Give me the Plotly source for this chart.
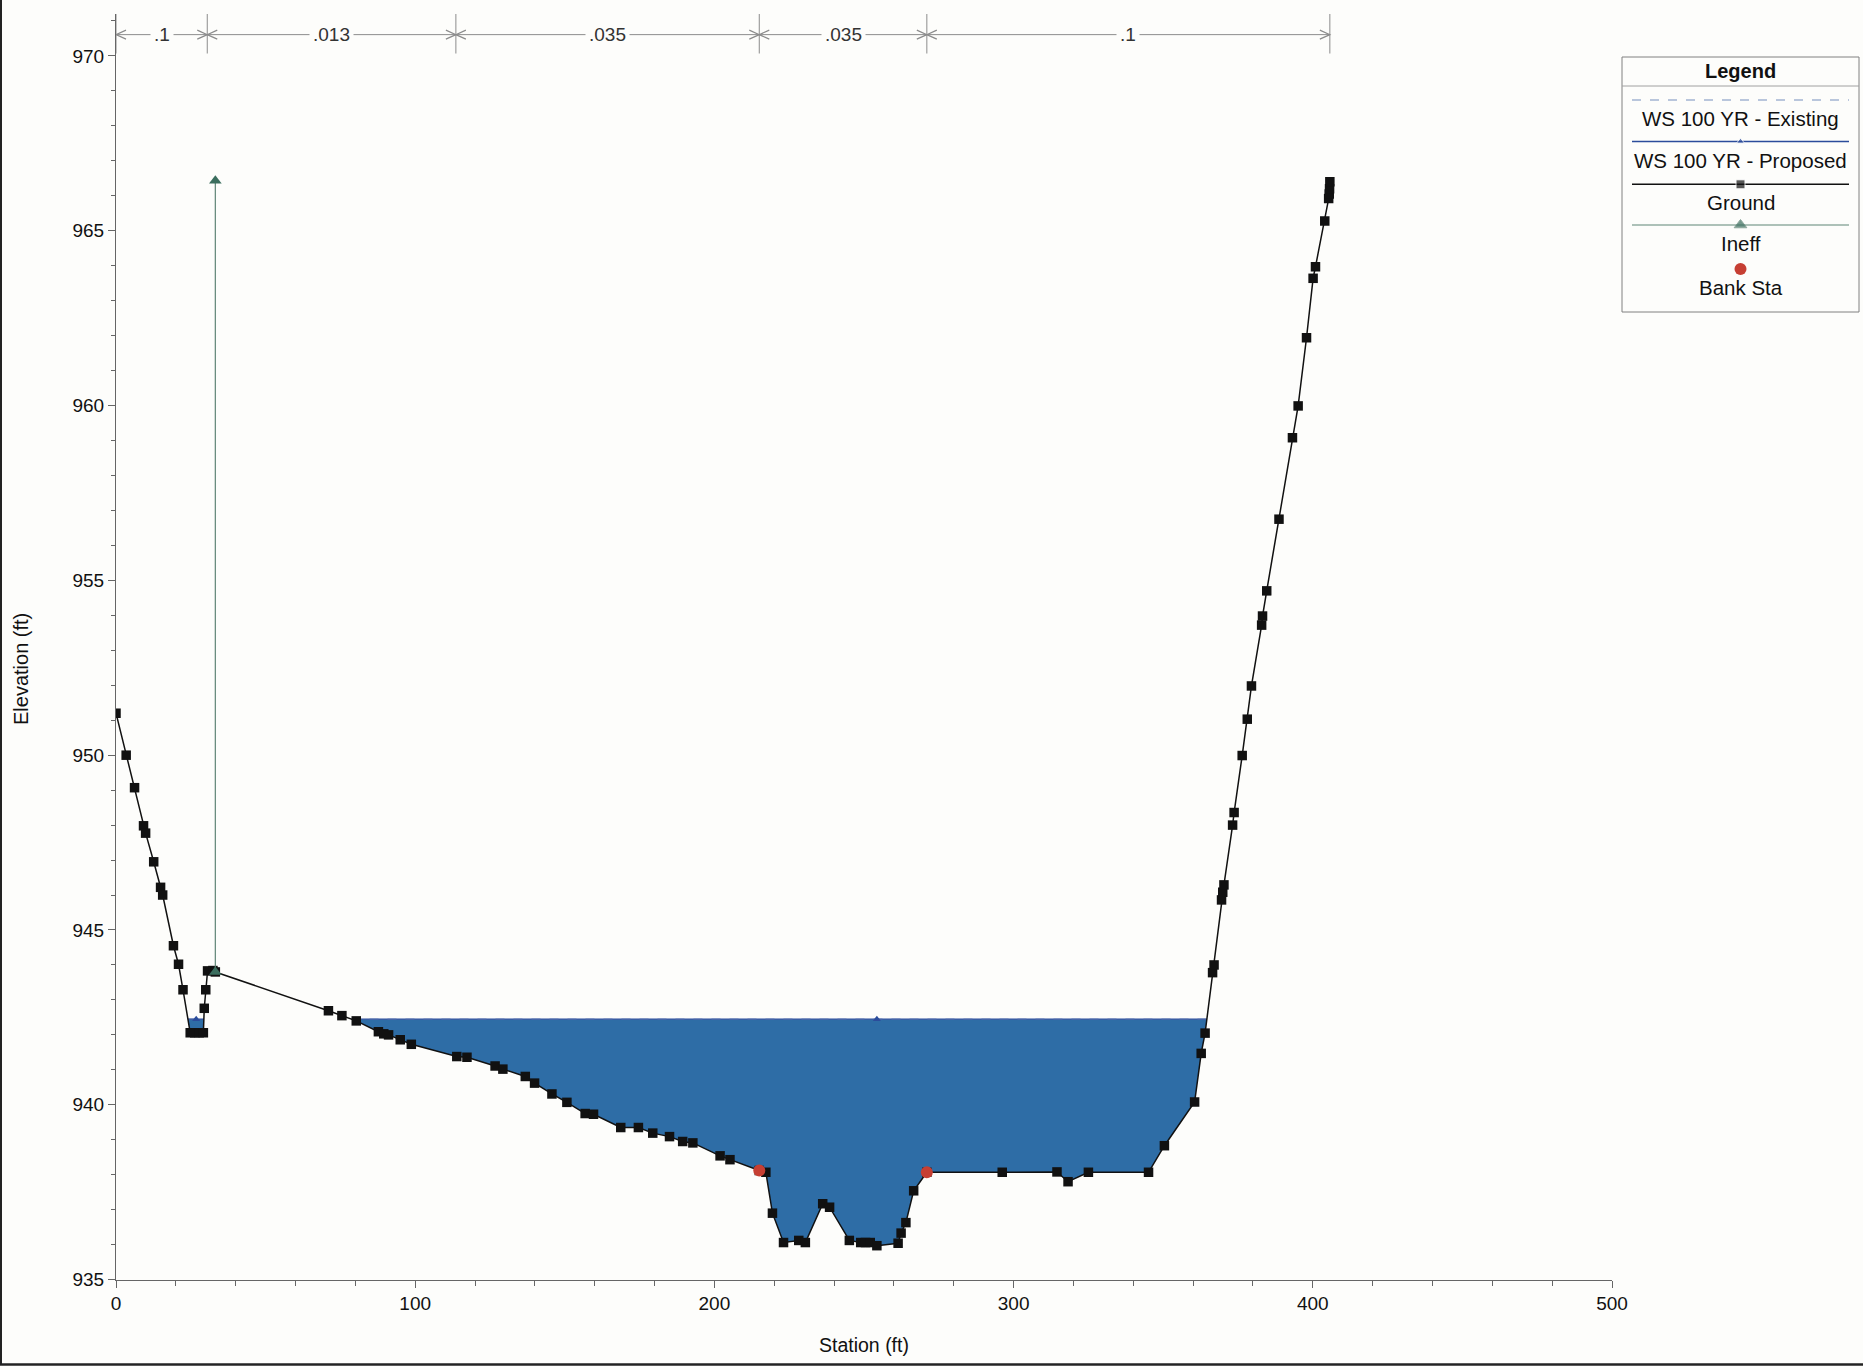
import numpy as np
import plotly.graph_objects as go

# ---------------- data ----------------
# Surveyed ground profile (station ft, elevation ft)
ground_sta = [0.0, 3.4, 6.2, 9.2, 9.9, 12.6, 14.9, 15.6, 19.2, 20.9, 22.4,
              24.8, 26.3, 27.8, 29.2, 29.5, 30.0, 30.6, 32.4, 33.2,
              71.0, 75.5, 80.3, 87.7, 89.5, 91.1, 95.0, 98.7, 113.9, 117.3,
              126.7, 129.3, 136.8, 139.9, 145.7, 150.7, 156.8, 159.6, 168.7,
              174.6, 179.4, 185.0, 189.4, 192.8, 201.9, 205.2, 215.0, 217.2,
              219.4, 223.1, 228.2, 230.4, 236.2, 238.5, 245.1, 248.9, 250.5,
              252.1, 254.3, 261.4, 262.4, 264.0, 266.6, 271.0, 296.2, 314.5,
              318.2, 325.0, 345.1, 350.4, 360.5, 362.7, 364.0, 366.5, 367.0,
              369.5, 369.9, 370.3, 373.2, 373.7, 376.4, 378.1, 379.5, 382.9,
              383.2, 384.6, 388.7, 393.2, 395.1, 397.9, 400.1, 400.9, 404.0,
              405.3, 405.5, 405.6, 405.7]
ground_elev = [951.2, 950.0, 949.07, 947.98, 947.77, 946.95, 946.22, 946.0,
               944.55, 944.02, 943.29, 942.06, 942.06, 942.06, 942.06, 942.76,
               943.29, 943.83, 943.84, 943.80,
               942.69, 942.55, 942.40, 942.09, 942.03, 942.0, 941.86, 941.73,
               941.38, 941.36, 941.11, 941.02, 940.81, 940.62, 940.31, 940.07,
               939.75, 939.73, 939.35, 939.35, 939.19, 939.09, 938.95, 938.91,
               938.54, 938.43, 938.12, 938.07, 936.90, 936.06, 936.12, 936.06,
               937.17, 937.07, 936.12, 936.06, 936.06, 936.06, 935.97, 936.04,
               936.33, 936.63, 937.54, 938.07, 938.07, 938.08, 937.80, 938.07,
               938.07, 938.83, 940.08, 941.47, 942.05, 943.78, 944.0, 945.86,
               946.08, 946.29, 948.0, 948.36, 949.99, 951.03, 951.98, 953.72,
               953.98, 954.70, 956.75, 959.08, 959.99, 961.94, 963.64, 963.97,
               965.28, 965.92, 966.05, 966.2, 966.4]

# Water surface, 100-yr event
ws_existing = 942.45
ws_proposed = 942.45
ws_marker_sta = [26.8, 254.3]

# Ineffective flow area limit
ineff_sta = [33.2, 33.2]
ineff_elev = [943.80, 966.43]

# Bank stations
bank_sta = [215.0, 271.0]
bank_elev = [938.12, 938.07]

# Manning's n breakpoints and values
n_breaks = [0.0, 30.5, 113.6, 215.0, 271.0, 405.7]
n_values = [".1", ".013", ".035", ".035", ".1"]
n_line_elev = 970.61
n_tick_lo, n_tick_hi = 970.07, 971.2

x_ticks = [0, 100, 200, 300, 400, 500]
y_ticks = [935, 940, 945, 950, 955, 960, 965, 970]

# ---------------- layout geometry ----------------
W, H = 1863, 1370
PX_L, PX_R = 116, 1612
PX_T, PX_B = 14, 1279.6
X_RANGE = [0, 500]
Y_RANGE = [935, 971.2]
px_per_ft_x = (PX_R - PX_L) / (X_RANGE[1] - X_RANGE[0])
px_per_ft_y = (PX_B - PX_T) / (Y_RANGE[1] - Y_RANGE[0])

BG = "#fdfdfb"
FONT = "Liberation Sans, Arial, sans-serif"
WATER = "#2e6da6"
WS_LINE = "#2b4c9b"
WS_EX = "#a3b4d2"
GROUND = "#111111"
INEFF_LINE = "#5f8576"
INEFF_MK = "#3b6e5e"
BANK = "#c63f33"
AXIS = "#666666"
N_GREY = "#8c8c8c"

# ---------------- water polygon ----------------
gs = np.array(ground_sta)
ge = np.array(ground_elev)
ws = ws_proposed
xs, ys, crossings = [gs[0]], [ge[0]], []
for i in range(1, len(gs)):
    d0, d1 = ge[i - 1] - ws, ge[i] - ws
    if d0 * d1 < 0:
        t = d0 / (d0 - d1)
        xc = gs[i - 1] + t * (gs[i] - gs[i - 1])
        xs.append(xc)
        ys.append(ws)
        crossings.append(xc)
    xs.append(gs[i])
    ys.append(ge[i])
xs = np.array(xs)
bottom = np.minimum(np.array(ys), ws)

# wet segments (pairs of down/up crossings)
seg_x, seg_y = [], []
for a, b in zip(crossings[0::2], crossings[1::2]):
    seg_x += [a, b, None]
    seg_y += [ws, ws, None]

fig = go.Figure()

fig.add_trace(go.Scatter(x=xs, y=bottom, mode="lines", line=dict(width=0),
                         hoverinfo="skip", showlegend=False))
fig.add_trace(go.Scatter(x=xs, y=[ws] * len(xs), mode="lines",
                         line=dict(width=0), fill="tonexty", fillcolor=WATER,
                         hoverinfo="skip", showlegend=False))

# WS 100 YR - Existing
fig.add_trace(go.Scatter(x=seg_x, y=[ws_existing if v is not None else None for v in seg_y],
                         mode="lines", line=dict(color=WS_EX, width=1.2, dash="dash"),
                         name="WS 100 YR - Existing", showlegend=False))
# WS 100 YR - Proposed
fig.add_trace(go.Scatter(x=seg_x, y=seg_y, mode="lines",
                         line=dict(color=WS_LINE, width=1.3),
                         name="WS 100 YR - Proposed", showlegend=False))
fig.add_trace(go.Scatter(x=ws_marker_sta, y=[ws_proposed] * len(ws_marker_sta),
                         mode="markers",
                         marker=dict(symbol="triangle-up", size=7, color=WS_LINE),
                         showlegend=False, hoverinfo="skip"))

# Ground
fig.add_trace(go.Scatter(x=ground_sta, y=ground_elev, mode="lines+markers",
                         line=dict(color=GROUND, width=1.5),
                         marker=dict(symbol="square", size=9.5, color=GROUND),
                         name="Ground", showlegend=False))

# Ineff
fig.add_trace(go.Scatter(x=ineff_sta, y=ineff_elev, mode="lines+markers",
                         line=dict(color=INEFF_LINE, width=1.2),
                         marker=dict(symbol="triangle-up", size=11, color=INEFF_MK),
                         name="Ineff", showlegend=False))

# Bank Sta
fig.add_trace(go.Scatter(x=bank_sta, y=bank_elev, mode="markers",
                         marker=dict(symbol="circle", size=12, color=BANK),
                         name="Bank Sta", showlegend=False))

# ---------------- Manning's n bar ----------------
shapes = []
annotations = []
arrow_dx = 10 / px_per_ft_x
arrow_dy = 4.5 / px_per_ft_y
shapes.append(dict(type="line", xref="x", yref="y", x0=n_breaks[0], x1=n_breaks[-1],
                   y0=n_line_elev, y1=n_line_elev, line=dict(color=N_GREY, width=1)))
for b in n_breaks:
    shapes.append(dict(type="line", xref="x", yref="y", x0=b, x1=b,
                       y0=n_tick_lo, y1=n_tick_hi, line=dict(color=N_GREY, width=1)))
for a, b, label in zip(n_breaks[:-1], n_breaks[1:], n_values):
    # chevrons pointing at each end of the reach
    shapes.append(dict(type="path", xref="x", yref="y",
                       path=f"M {a + arrow_dx},{n_line_elev + arrow_dy} L {a},{n_line_elev} "
                            f"L {a + arrow_dx},{n_line_elev - arrow_dy}",
                       line=dict(color=N_GREY, width=1.2)))
    shapes.append(dict(type="path", xref="x", yref="y",
                       path=f"M {b - arrow_dx},{n_line_elev + arrow_dy} L {b},{n_line_elev} "
                            f"L {b - arrow_dx},{n_line_elev - arrow_dy}",
                       line=dict(color=N_GREY, width=1.2)))
    annotations.append(dict(xref="x", yref="y", x=(a + b) / 2, y=n_line_elev,
                            text=label, showarrow=False, bgcolor=BG, borderpad=3,
                            font=dict(family=FONT, size=19, color="#333333")))

# ---------------- pixel-space overlay (legend, titles, frame) ----------------
LX0, LX1, LY0, LY1 = 1622, 1859, 57, 312
LCX = (LX0 + LX1) / 2
SX0, SX1 = 1632, 1849
shapes.append(dict(type="rect", xref="x2", yref="y2", x0=LX0, x1=LX1, y0=LY0, y1=LY1,
                   line=dict(color="#808080", width=1)))
shapes.append(dict(type="line", xref="x2", yref="y2", x0=LX0, x1=LX1, y0=86, y1=86,
                   line=dict(color="#a0a0a0", width=1)))
annotations.append(dict(xref="x2", yref="y2", x=LCX, y=71, text="<b>Legend</b>",
                        showarrow=False, font=dict(family=FONT, size=20, color="#111111")))

legend_rows = [
    ("WS 100 YR - Existing", 100, 118),
    ("WS 100 YR - Proposed", 141.5, 160),
    ("Ground", 184.3, 202.7),
    ("Ineff", 225, 243.3),
    ("Bank Sta", 269, 287.3),
]
for text, sy, ty in legend_rows:
    annotations.append(dict(xref="x2", yref="y2", x=LCX, y=ty, text=text, showarrow=False,
                            font=dict(family=FONT, size=20.5, color="#111111")))

sy = {r[0]: r[1] for r in legend_rows}
fig.add_trace(go.Scatter(x=[SX0, SX1], y=[sy["WS 100 YR - Existing"]] * 2, xaxis="x2", yaxis="y2",
                         mode="lines", line=dict(color=WS_EX, width=1.5, dash="dash"),
                         showlegend=False, hoverinfo="skip"))
fig.add_trace(go.Scatter(x=[SX0, LCX, SX1], y=[sy["WS 100 YR - Proposed"]] * 3, xaxis="x2", yaxis="y2",
                         mode="lines+markers", line=dict(color=WS_LINE, width=1.5),
                         marker=dict(symbol="triangle-up", size=[0, 7, 0], color=WS_LINE),
                         showlegend=False, hoverinfo="skip"))
fig.add_trace(go.Scatter(x=[SX0, LCX, SX1], y=[sy["Ground"]] * 3, xaxis="x2", yaxis="y2",
                         mode="lines+markers", line=dict(color=GROUND, width=1.5),
                         marker=dict(symbol="square", size=[0, 9, 0], color=GROUND),
                         showlegend=False, hoverinfo="skip"))
fig.add_trace(go.Scatter(x=[SX0, LCX, SX1], y=[sy["Ineff"]] * 3, xaxis="x2", yaxis="y2",
                         mode="lines+markers", line=dict(color=INEFF_LINE, width=1.2),
                         marker=dict(symbol="triangle-up", size=[0, 11, 0], color=INEFF_MK),
                         showlegend=False, hoverinfo="skip"))
fig.add_trace(go.Scatter(x=[LCX], y=[sy["Bank Sta"]], xaxis="x2", yaxis="y2",
                         mode="markers", marker=dict(symbol="circle", size=12, color=BANK),
                         showlegend=False, hoverinfo="skip"))

# axis titles
annotations.append(dict(xref="x2", yref="y2", x=21, y=669, text="Elevation (ft)",
                        textangle=-90, showarrow=False,
                        font=dict(family=FONT, size=20, color="#111111")))
annotations.append(dict(xref="x2", yref="y2", x=(PX_L + PX_R) / 2, y=1345, text="Station (ft)",
                        showarrow=False, font=dict(family=FONT, size=19.5, color="#111111")))

# outer frame on left and bottom edges
shapes.append(dict(type="line", xref="x2", yref="y2", x0=1, x1=1, y0=0, y1=1365,
                   line=dict(color="#222222", width=2)))
shapes.append(dict(type="line", xref="x2", yref="y2", x0=0, x1=W, y0=1364.5, y1=1364.5,
                   line=dict(color="#222222", width=2.5)))

fig.update_layout(
    width=W, height=H,
    margin=dict(l=0, r=0, t=0, b=0, autoexpand=False),
    paper_bgcolor=BG, plot_bgcolor="rgba(0,0,0,0)",
    showlegend=False,
    font=dict(family=FONT, size=19, color="#111111"),
    xaxis=dict(domain=[PX_L / W, PX_R / W], range=X_RANGE, tickvals=x_ticks,
               ticks="outside", ticklen=7, tickcolor=AXIS, showline=True, linecolor=AXIS,
               linewidth=1, showgrid=False, zeroline=False, automargin=False,
               tickfont=dict(family=FONT, size=19, color="#111111"),
               minor=dict(dtick=20, ticks="outside", ticklen=5, tickcolor=AXIS),
               anchor="y"),
    yaxis=dict(domain=[1 - PX_B / H, 1 - PX_T / H], range=Y_RANGE, tickvals=y_ticks,
               ticks="outside", ticklen=7, tickcolor=AXIS, showline=True, linecolor=AXIS,
               linewidth=1, showgrid=False, zeroline=False, automargin=False,
               tickfont=dict(family=FONT, size=19, color="#111111"),
               minor=dict(dtick=1, ticks="outside", ticklen=4, tickcolor=AXIS),
               anchor="x"),
    xaxis2=dict(domain=[0, 1], range=[0, W], visible=False, anchor="y2", fixedrange=True),
    yaxis2=dict(domain=[0, 1], range=[H, 0], visible=False, anchor="x2", fixedrange=True),
    shapes=shapes,
    annotations=annotations,
)

fig.write_html("out.html")
